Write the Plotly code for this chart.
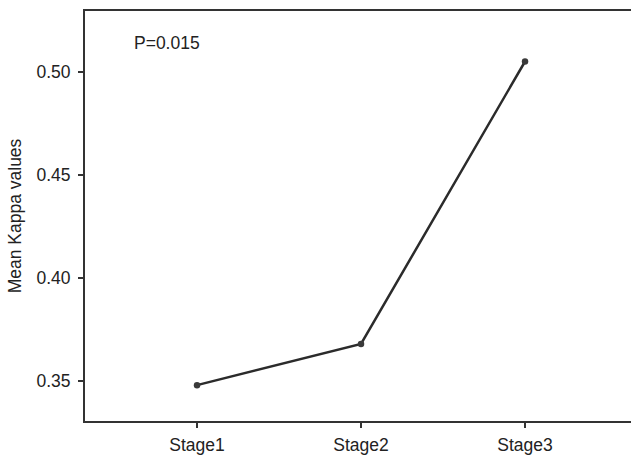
import plotly.graph_objects as go

stages = ["Stage1", "Stage2", "Stage3"]
kappa = [0.348, 0.368, 0.505]
y_ticks = [0.35, 0.40, 0.45, 0.50]
y_tick_labels = ["0.35", "0.40", "0.45", "0.50"]

FONT = "Liberation Sans, Arial"

fig = go.Figure()
fig.add_trace(go.Scatter(
    x=list(range(len(stages))), y=kappa, mode="lines+markers",
    line=dict(color="#2b2b2b", width=2.5),
    marker=dict(color="#3a3a3a", size=6.5),
    showlegend=False,
))

fig.add_annotation(text="P=0.015", xref="paper", yref="paper", x=0.0847, y=0.922,
                   xanchor="left", yanchor="middle", showarrow=False,
                   font=dict(family=FONT, size=17.5, color="#222"))

fig.update_layout(
    width=645, height=455,
    margin=dict(l=85, r=0, t=11, b=34),
    paper_bgcolor="white", plot_bgcolor="white",
    font=dict(family=FONT, size=17.5, color="#222"),
    xaxis=dict(
        range=[-0.683, 2.701 + 5 / 164],
        tickvals=list(range(len(stages))), ticktext=stages,
        showline=True, linecolor="#333", linewidth=2, mirror=True,
        ticks="outside", ticklen=5, tickwidth=2, tickcolor="#333",
        ticklabelstandoff=2,
        showgrid=False, zeroline=False,
    ),
    yaxis=dict(
        range=[0.3306, 0.5295],
        tickvals=y_ticks, ticktext=y_tick_labels,
        showline=True, linecolor="#333", linewidth=2,
        ticks="outside", ticklen=5, tickwidth=2, tickcolor="#333",
        ticklabelstandoff=4,
        showgrid=False, zeroline=False,
        title=dict(text="Mean Kappa values", standoff=10, font=dict(size=17.5)),
    ),
)

fig.write_html(
    "out.html",
    config={"displayModeBar": False},
    post_script="document.body.style.margin='0';document.body.style.overflow='hidden';",
)
